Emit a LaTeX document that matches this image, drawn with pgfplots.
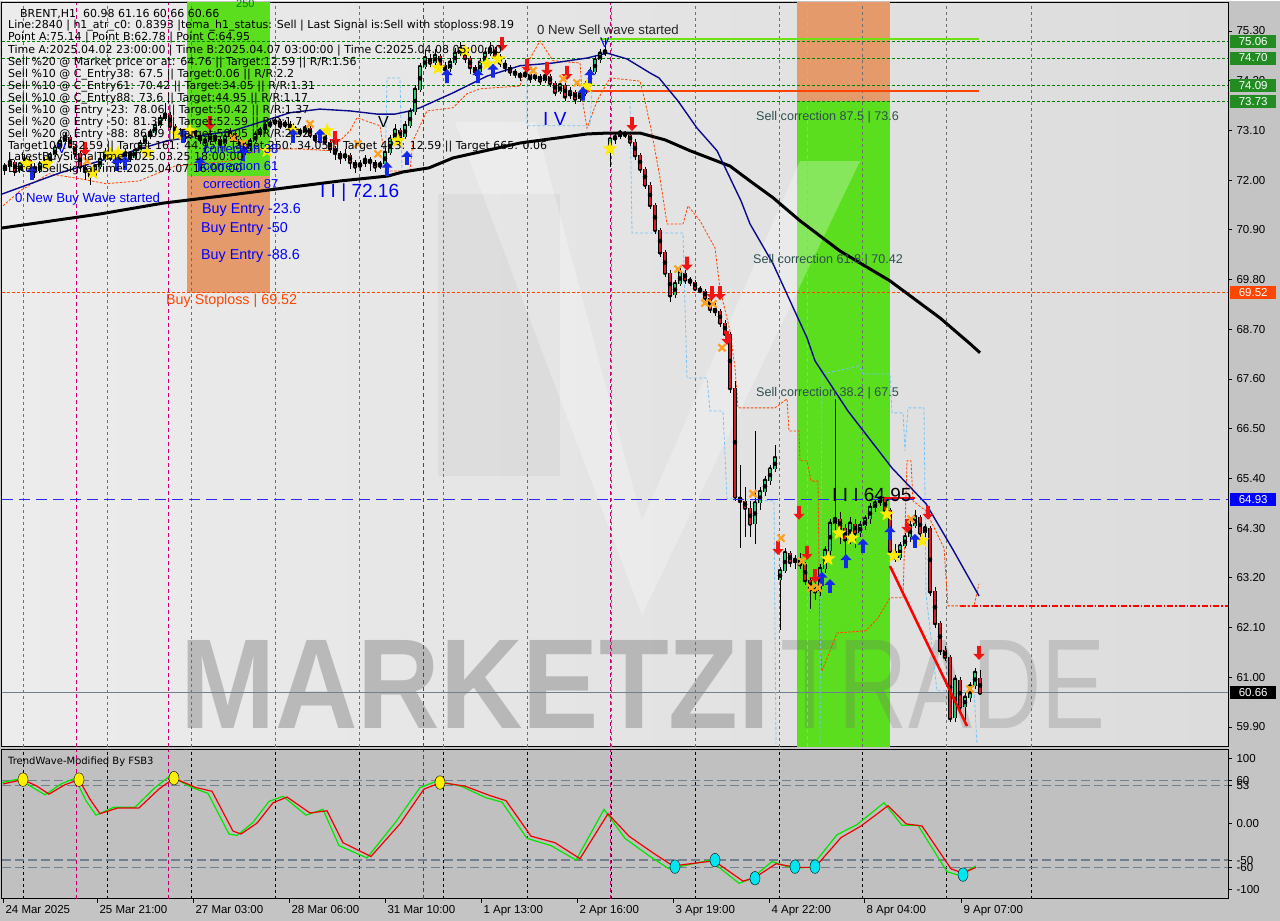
\documentclass[border=0pt]{standalone}
\usepackage{pgfplots}
\pgfplotsset{compat=1.18}
\usepackage{pgfplotstable}
\usepackage{graphicx}
\usepackage{fontspec}
\setmainfont{Liberation Sans}
\newfontfamily\dvs{DejaVu Sans}

\definecolor{outerbg}{RGB}{196,196,196}
\definecolor{mainL}{RGB}{236,236,236}
\definecolor{mainR}{RGB}{220,220,220}
\definecolor{oscbg}{RGB}{192,192,192}
\definecolor{blkgreen}{RGB}{90,222,30}
\definecolor{blkorange}{RGB}{228,154,106}
\definecolor{navyma}{RGB}{10,10,140}
\definecolor{lvlgreen}{RGB}{0,130,0}
\definecolor{limeline}{RGB}{110,225,20}
\definecolor{orred}{RGB}{255,69,0}
\definecolor{ltblue}{RGB}{120,195,245}
\definecolor{candup}{RGB}{40,200,110}
\definecolor{canddn}{RGB}{215,30,40}
\definecolor{staryel}{RGB}{255,235,0}
\definecolor{arrblue}{RGB}{20,40,235}
\definecolor{arrred}{RGB}{240,20,20}
\definecolor{xorange}{RGB}{255,160,30}
\definecolor{magline}{RGB}{200,0,120}
\definecolor{gridc}{RGB}{110,110,110}
\definecolor{slate}{RGB}{47,79,79}
\definecolor{taggreen}{RGB}{34,139,34}
\definecolor{pureblue}{RGB}{0,0,255}
\definecolor{lineblue}{RGB}{40,40,255}
\definecolor{purered}{RGB}{255,0,0}
\definecolor{oscgreen}{RGB}{0,230,0}
\definecolor{oscred}{RGB}{240,0,0}
\definecolor{osccyan}{RGB}{0,230,240}
\definecolor{oscyel}{RGB}{255,240,0}
\definecolor{osclvl}{RGB}{112,128,144}
\definecolor{wmgray}{RGB}{110,110,110}

\pgfdeclareplotmark{fstar}{%
  \pgfpathmoveto{\pgfqpoint{0pt}{\pgfplotmarksize}}%
  \pgfpathlineto{\pgfqpoint{0.235\pgfplotmarksize}{0.324\pgfplotmarksize}}%
  \pgfpathlineto{\pgfqpoint{0.951\pgfplotmarksize}{0.309\pgfplotmarksize}}%
  \pgfpathlineto{\pgfqpoint{0.380\pgfplotmarksize}{-0.124\pgfplotmarksize}}%
  \pgfpathlineto{\pgfqpoint{0.588\pgfplotmarksize}{-0.809\pgfplotmarksize}}%
  \pgfpathlineto{\pgfqpoint{0pt}{-0.4\pgfplotmarksize}}%
  \pgfpathlineto{\pgfqpoint{-0.588\pgfplotmarksize}{-0.809\pgfplotmarksize}}%
  \pgfpathlineto{\pgfqpoint{-0.380\pgfplotmarksize}{-0.124\pgfplotmarksize}}%
  \pgfpathlineto{\pgfqpoint{-0.951\pgfplotmarksize}{0.309\pgfplotmarksize}}%
  \pgfpathlineto{\pgfqpoint{-0.235\pgfplotmarksize}{0.324\pgfplotmarksize}}%
  \pgfpathclose\pgfusepathqfill}
\pgfdeclareplotmark{uparr}{%
  \pgfpathmoveto{\pgfqpoint{0pt}{\pgfplotmarksize}}%
  \pgfpathlineto{\pgfqpoint{0.8\pgfplotmarksize}{0.15\pgfplotmarksize}}%
  \pgfpathlineto{\pgfqpoint{0.28\pgfplotmarksize}{0.15\pgfplotmarksize}}%
  \pgfpathlineto{\pgfqpoint{0.28\pgfplotmarksize}{-\pgfplotmarksize}}%
  \pgfpathlineto{\pgfqpoint{-0.28\pgfplotmarksize}{-\pgfplotmarksize}}%
  \pgfpathlineto{\pgfqpoint{-0.28\pgfplotmarksize}{0.15\pgfplotmarksize}}%
  \pgfpathlineto{\pgfqpoint{-0.8\pgfplotmarksize}{0.15\pgfplotmarksize}}%
  \pgfpathclose\pgfusepathqfill}
\pgfdeclareplotmark{dnarr}{%
  \pgfpathmoveto{\pgfqpoint{0pt}{-\pgfplotmarksize}}%
  \pgfpathlineto{\pgfqpoint{0.8\pgfplotmarksize}{-0.15\pgfplotmarksize}}%
  \pgfpathlineto{\pgfqpoint{0.28\pgfplotmarksize}{-0.15\pgfplotmarksize}}%
  \pgfpathlineto{\pgfqpoint{0.28\pgfplotmarksize}{\pgfplotmarksize}}%
  \pgfpathlineto{\pgfqpoint{-0.28\pgfplotmarksize}{\pgfplotmarksize}}%
  \pgfpathlineto{\pgfqpoint{-0.28\pgfplotmarksize}{-0.15\pgfplotmarksize}}%
  \pgfpathlineto{\pgfqpoint{-0.8\pgfplotmarksize}{-0.15\pgfplotmarksize}}%
  \pgfpathclose\pgfusepathqfill}

% bullish candles: x open high low close
\pgfplotstableread{
x o h l c
5 72.20 72.38 72.12 72.30
10 72.30 72.48 72.25 72.40
20 72.20 72.40 72.15 72.35
25 72.35 72.55 72.30 72.45
40 72.20 72.42 72.15 72.35
45 72.35 72.50 72.30 72.40
50 72.40 72.62 72.35 72.55
55 72.55 72.78 72.50 72.70
60 72.70 72.95 72.65 72.85
65 72.85 73.05 72.80 72.95
95 72.10 72.35 72.05 72.30
100 72.30 72.52 72.25 72.45
105 72.45 72.70 72.40 72.60
120 72.40 72.58 72.35 72.50
125 72.50 72.68 72.45 72.60
135 72.50 72.72 72.45 72.65
140 72.65 72.88 72.60 72.80
145 72.80 73.02 72.75 72.95
150 72.95 73.12 72.90 73.05
155 73.05 73.28 73.00 73.20
160 73.20 73.45 73.15 73.35
165 73.35 73.70 73.30 73.45
190 72.95 73.20 72.90 73.10
210 72.85 73.10 72.80 73.00
225 72.80 73.02 72.75 72.95
230 72.95 73.15 72.90 73.05
250 72.70 72.92 72.65 72.85
255 72.85 73.08 72.80 73.00
260 73.00 73.18 72.95 73.10
265 73.10 73.28 73.05 73.20
270 73.20 73.32 73.15 73.25
275 73.25 73.40 73.20 73.30
285 73.20 73.32 73.15 73.25
305 73.05 73.22 73.00 73.15
320 72.90 73.10 72.85 73.00
345 72.50 72.68 72.42 72.55
360 72.30 72.45 72.20 72.35
365 72.35 72.55 72.30 72.45
380 72.30 72.42 72.25 72.35
385 72.35 72.70 72.30 72.60
390 72.60 73.00 72.55 72.90
395 72.90 73.25 72.85 73.10
405 72.95 73.30 72.90 73.20
410 73.20 73.60 73.15 73.50
415 73.50 74.10 73.45 74.00
420 74.00 74.60 73.95 74.50
425 74.50 74.85 74.45 74.70
435 74.60 74.90 74.55 74.75
450 74.45 74.70 74.40 74.60
455 74.60 74.92 74.55 74.80
460 74.80 75.05 74.75 74.90
480 74.40 74.70 74.35 74.60
485 74.60 74.92 74.55 74.80
490 74.80 75.05 74.75 74.90
525 74.30 74.45 74.25 74.35
535 74.25 74.38 74.20 74.30
545 74.20 74.40 74.15 74.30
560 73.95 74.18 73.90 74.10
570 73.85 74.05 73.80 73.95
580 73.80 73.98 73.72 73.90
585 73.90 74.20 73.85 74.10
590 74.10 74.50 74.05 74.40
595 74.40 74.75 74.35 74.65
600 74.65 74.90 74.60 74.80
605 74.80 75.14 74.75 74.85
610 72.60 72.95 72.30 72.90
615 72.90 73.05 72.80 72.95
620 72.95 73.10 72.90 73.05
675 69.45 69.80 69.40 69.70
680 69.70 70.05 69.65 69.95
755 64.40 66.45 63.95 64.85
760 64.85 65.20 64.70 65.10
765 65.10 65.45 65.00 65.35
770 65.35 65.70 65.25 65.60
775 65.60 66.15 65.55 65.85
780 63.15 63.45 62.05 63.35
785 63.35 63.85 63.30 63.75
795 63.55 63.70 63.40 63.60
820 62.90 63.50 62.80 63.40
825 63.40 63.90 63.30 63.80
830 63.80 64.50 63.70 64.40
835 64.40 67.15 64.25 64.50
850 64.05 64.55 63.95 64.40
860 64.20 64.45 64.10 64.35
865 64.35 64.60 64.25 64.50
870 64.50 64.85 64.40 64.75
875 64.75 64.95 64.65 64.85
880 64.85 65.00 64.80 64.95
900 63.65 64.00 63.60 63.90
905 63.90 64.20 63.85 64.10
910 64.10 64.45 64.00 64.35
915 64.35 64.70 64.30 64.55
925 64.20 64.40 64.10 64.30
955 60.10 61.05 60.00 60.95
965 60.35 60.65 60.05 60.55
970 60.55 60.90 60.45 60.80
975 60.80 61.20 60.75 61.10
}\upbars

% bearish candles: x open high low close
\pgfplotstableread{
x o h l c
15 72.40 72.45 72.10 72.20
30 72.45 72.50 72.25 72.30
35 72.30 72.38 72.05 72.20
70 72.95 73.00 72.70 72.75
75 72.75 72.80 72.50 72.60
80 72.60 72.65 72.20 72.30
85 72.30 72.40 72.00 72.20
90 72.20 72.25 71.90 72.10
110 72.60 72.65 72.42 72.50
115 72.50 72.55 72.30 72.40
130 72.60 72.65 72.40 72.50
170 73.45 73.50 73.10 73.20
175 73.20 73.25 72.95 73.05
180 73.05 73.15 72.90 73.00
185 73.00 73.10 72.85 72.95
195 73.10 73.15 72.90 73.00
200 73.00 73.05 72.80 72.90
205 72.90 72.95 72.60 72.85
215 73.00 73.05 72.80 72.90
220 72.90 72.95 72.70 72.80
235 73.05 73.10 72.85 72.90
240 72.90 72.95 72.70 72.80
245 72.80 72.85 72.55 72.70
280 73.30 73.35 73.12 73.20
290 73.25 73.30 73.08 73.15
295 73.15 73.20 73.02 73.10
300 73.10 73.15 72.98 73.05
310 73.15 73.20 72.92 73.00
315 73.00 73.05 72.82 72.90
325 73.00 73.05 72.78 72.85
330 72.85 72.90 72.60 72.70
335 72.70 72.75 72.45 72.60
340 72.60 72.65 72.35 72.50
350 72.55 72.60 72.25 72.40
355 72.40 72.45 72.16 72.30
370 72.45 72.50 72.20 72.40
375 72.40 72.45 72.18 72.30
400 73.10 73.15 72.85 72.95
430 74.70 74.80 74.50 74.60
440 74.75 74.80 74.45 74.55
445 74.55 74.62 74.35 74.45
465 74.90 74.95 74.60 74.70
470 74.70 74.75 74.35 74.50
475 74.50 74.55 74.30 74.40
495 74.90 74.95 74.65 74.75
500 74.75 74.80 74.50 74.60
505 74.60 74.65 74.40 74.50
510 74.50 74.55 74.30 74.40
515 74.40 74.45 74.25 74.35
520 74.35 74.40 74.20 74.30
530 74.35 74.40 74.15 74.25
540 74.30 74.35 74.10 74.20
550 74.30 74.35 74.05 74.15
555 74.15 74.20 73.85 73.95
565 74.10 74.15 73.75 73.85
575 73.95 74.00 73.68 73.80
625 73.05 73.08 72.92 73.00
630 73.00 73.02 72.75 72.85
635 72.85 72.90 72.45 72.55
640 72.55 72.60 72.15 72.25
645 72.25 72.30 71.80 71.90
650 71.90 71.95 71.35 71.45
655 71.45 71.50 70.80 70.90
660 70.90 70.95 70.30 70.40
665 70.40 70.45 69.85 69.95
670 69.95 70.00 69.30 69.45
685 69.95 70.00 69.70 69.80
690 69.80 69.85 69.65 69.75
695 69.75 69.78 69.55 69.60
700 69.60 69.65 69.50 69.55
705 69.55 69.58 69.30 69.40
710 69.40 69.45 69.05 69.15
715 69.15 69.28 69.00 69.10
720 69.10 69.15 68.75 68.85
725 68.85 68.90 68.50 68.60
730 68.60 68.65 67.30 67.40
735 67.40 67.55 64.90 65.00
740 65.00 65.70 63.85 64.90
745 64.90 65.20 64.10 64.75
750 64.75 64.90 64.10 64.40
790 63.75 63.80 63.45 63.55
800 63.60 63.75 63.40 63.50
805 63.50 63.55 63.05 63.15
810 63.15 63.20 62.50 62.95
815 62.95 63.10 62.70 62.90
840 64.50 64.65 63.95 64.30
845 64.30 64.40 63.50 64.05
855 64.40 64.50 63.85 64.20
885 64.95 64.98 64.60 64.70
890 64.70 64.75 63.70 63.80
895 63.80 63.95 63.55 63.65
920 64.55 64.60 64.10 64.20
930 64.30 64.35 62.80 62.90
935 62.90 63.00 62.10 62.20
940 62.20 62.25 61.50 61.60
945 61.60 61.70 61.35 61.45
950 61.45 61.50 60.00 60.10
960 60.95 61.00 60.25 60.35
980 60.98 61.16 60.66 60.66
}\dnbars

\pgfplotsset{
  wick/.style={only marks, mark=none, forget plot, error bars/.cd, y dir=both, y explicit,
    error bar style={draw=black, line width=1pt}, error mark=none},
  body/.style 2 args={only marks, mark=none, forget plot, error bars/.cd, y dir=both, y explicit,
    error bar style={draw=#1, line width=#2}, error mark=none},
}

\begin{document}
\begin{tikzpicture}
\fill[outerbg] (0pt,0pt) rectangle (1280pt,-920pt);

% ================= MAIN PRICE PANEL =================
\begin{axis}[
  at={(2pt,-746pt)}, anchor=south west,
  scale only axis, width=1226pt, height=744pt,
  xmin=2, xmax=1228, ymin=59.46, ymax=75.92,
  axis background/.style={left color=mainL, right color=mainR},
  axis line style={black, line width=1pt},
  clip mode=individual,
  xtick=\empty,
  ytick={59.9,61,62.1,63.2,64.3,65.4,66.5,67.6,68.7,69.8,70.9,72,73.1,74.2,75.3},
  ytick pos=right, yticklabel pos=right,
  tick align=outside, major tick length=4pt,
  tick style={black, line width=0.8pt},
  yticklabel={\pgfmathprintnumber[fixed,fixed zerofill,precision=2,assume math mode=true]{\tick}},
  yticklabel style={font=\fontsize{11.5}{13}\selectfont, anchor=west, xshift=1pt},
]
% faint logo block behind
\addplot[fill=black, fill opacity=0.035, draw=none, forget plot] coordinates {(438,71.69) (560,71.69) (560,65.45) (438,65.45)} -- cycle;

% shaded zones
\addplot[fill=blkgreen, draw=none, forget plot] coordinates {(187,72.09) (270,72.09) (270,76.2) (187,76.2)} -- cycle;
\addplot[fill=blkorange, draw=none, forget plot] coordinates {(187,69.50) (270,69.50) (270,72.09) (187,72.09)} -- cycle;
\addplot[fill=blkorange, draw=none, forget plot] coordinates {(797,73.75) (890,73.75) (890,76.2) (797,76.2)} -- cycle;
\addplot[fill=blkgreen, draw=none, forget plot] coordinates {(797,59.0) (890,59.0) (890,73.75) (797,73.75)} -- cycle;

% light logo "V"
\addplot[fill=white, fill opacity=0.28, draw=none, forget plot] coordinates {
(455,73.29) (535,73.29) (642,64.46) (800,72.42) (860,72.42) (642,62.38)} -- cycle;

% watermark
\node[anchor=south west, inner sep=0pt, text=wmgray, text opacity=0.38] at (axis cs:180,59.856) {\resizebox{590pt}{88pt}{\bfseries MARKETZI}};
\node[anchor=south west, inner sep=0pt, text=wmgray, text opacity=0.25] at (axis cs:780,59.856) {\resizebox{325pt}{88pt}{TRADE}};

% vertical grid
\pgfplotsinvokeforeach{23,107,191,275,359,443,527,611,695,779,862,946,1031}{
  \draw[gridc, line width=0.7pt, dash pattern=on 3pt off 3pt] (axis cs:#1,59.46) -- (axis cs:#1,75.92);
}
\pgfplotsinvokeforeach{76,168,423,610}{
  \draw[magline, line width=0.8pt, dash pattern=on 4pt off 3pt] (axis cs:#1,59.46) -- (axis cs:#1,75.92);
}
\draw[ltblue, line width=0.8pt, dash pattern=on 4pt off 3pt] (axis cs:807,59.46) -- (axis cs:807,75.92);

% horizontal levels
\addplot[lvlgreen, line width=0.8pt, dash pattern=on 3pt off 2pt, forget plot] coordinates {(2,75.06) (1228,75.06)};
\addplot[lvlgreen, line width=0.8pt, dash pattern=on 3pt off 2pt, forget plot] coordinates {(2,74.70) (1228,74.70)};
\addplot[lvlgreen, line width=0.8pt, dash pattern=on 3pt off 2pt, forget plot] coordinates {(2,74.09) (1228,74.09)};
\addplot[lvlgreen, line width=0.8pt, dash pattern=on 3pt off 2pt, forget plot] coordinates {(2,73.73) (1228,73.73)};
\addplot[orred, line width=1pt, dash pattern=on 3pt off 2pt, forget plot] coordinates {(2,69.52) (1228,69.52)};
\addplot[purered, line width=1.4pt, dash pattern=on 6pt off 2pt on 1.5pt off 2pt, forget plot] coordinates {(960,62.58) (1228,62.58)};
\addplot[osclvl, line width=1pt, forget plot] coordinates {(2,60.66) (1228,60.66)};
\addplot[limeline, line width=1.2pt, forget plot] coordinates {(600,75.12) (979,75.12)};
\addplot[orred, line width=1.2pt, forget plot] coordinates {(580,73.97) (979,73.97)};

% indicator bands
\addplot[orred, line width=0.8pt, dash pattern=on 2.5pt off 1.5pt, forget plot] coordinates {
(3,71.43) (20,71.76) (49,72.14) (80,72.03) (106,71.92) (139,71.98) (175,72.31) (229,72.42) (262,72.69)
(300,72.69) (330,72.65) (350,73.09) (357,73.38) (380,73.20) (387,72.20) (410,72.20) (413,72.87)
(427,73.53) (453,73.60) (467,73.91) (480,74.02) (520,74.08) (527,74.57) (540,75.08) (553,74.64)
(580,74.59) (583,73.69) (587,73.15) (597,73.75) (610,74.26) (640,74.19) (645,73.75) (652,73.02)
(660,72.05) (667,71.03) (683,71.03) (688,71.43) (700,71.10) (715,70.50) (720,69.59) (730,68.66)
(735,67.84) (738,66.96) (775,66.96) (787,67.16) (789,66.45) (799,66.45) (800,65.79) (807,65.79)
(811,65.34) (818,65.34) (820,61.74) (822,61.14) (837,61.98) (866,62.03) (878,62.31) (890,62.76)
(903,62.76) (907,65.79) (911,65.79) (913,64.90) (926,64.68) (944,63.86) (948,62.58) (974,62.58) (979,63.07)};
\addplot[ltblue, line width=0.8pt, dash pattern=on 3pt off 2pt, forget plot] coordinates {
(630,73.75) (632,70.83) (683,70.83) (687,67.62) (707,67.62) (710,66.89) (723,66.89) (727,64.95)
(774,64.90) (776,59.53)};
\addplot[ltblue, line width=0.8pt, dash pattern=on 3pt off 2pt, forget plot] coordinates {
(820,59.53) (822,67.71) (859,67.89) (863,67.71) (890,67.71) (892,66.85) (903,66.85) (905,66.01)
(908,66.96) (924,66.96) (926,62.84) (937,60.70) (974,60.70) (977,59.53)};
\addplot[ltblue, line width=0.8pt, dash pattern=on 3pt off 2pt, forget plot] coordinates {
(385,72.05) (387,74.26) (400,74.26) (402,72.20)};
\addplot[ltblue, line width=0.8pt, dash pattern=on 3pt off 2pt, forget plot] coordinates {
(527,74.30) (527,73.20) (590,73.20) (592,74.00)};

% moving averages
\addplot[black, line width=3pt, forget plot] coordinates {
(2,70.94) (100,71.25) (163,71.49) (230,71.67) (286,71.83) (340,71.98) (388,72.09) (403,72.18)
(429,72.27) (453,72.49) (520,72.82) (587,73.02) (607,73.04) (640,73.04) (665,72.89) (690,72.65)
(730,72.31) (750,71.98) (773,71.61) (800,71.10) (840,70.43) (890,69.77) (940,68.95) (970,68.38) (980,68.18)};
\addplot[navyma, line width=1.4pt, forget plot] coordinates {
(2,71.69) (60,72.16) (110,72.49) (167,72.87) (233,73.09) (290,73.49) (320,73.57) (350,73.53)
(377,73.46) (395,73.46) (410,73.53) (420,73.60) (453,73.93) (487,74.30) (520,74.53) (553,74.59)
(587,74.70) (607,74.81) (627,74.68) (650,74.37) (659,74.26) (678,73.75) (697,73.15) (717,72.65)
(741,71.54) (750,71.03) (773,70.15) (790,69.33) (807,68.51) (815,68.00) (848,66.89) (892,65.63)
(926,64.84) (952,63.86) (979,62.80)};

% candles: wicks
\addplot[wick] table[x=x, y=c, y error plus expr=\thisrow{h}-\thisrow{c}, y error minus expr=\thisrow{c}-\thisrow{l}] {\upbars};
\addplot[wick] table[x=x, y=c, y error plus expr=\thisrow{h}-\thisrow{c}, y error minus expr=\thisrow{c}-\thisrow{l}] {\dnbars};
% candles: bodies
\addplot[body={black}{3.6pt}] table[x=x, y expr=(\thisrow{o}+\thisrow{c})/2, y error expr=(\thisrow{c}-\thisrow{o})/2] {\upbars};
\addplot[body={candup}{2.2pt}] table[x=x, y expr=(\thisrow{o}+\thisrow{c})/2, y error expr=(\thisrow{c}-\thisrow{o})/2] {\upbars};
\addplot[body={black}{3.6pt}] table[x=x, y expr=(\thisrow{o}+\thisrow{c})/2, y error expr=(\thisrow{o}-\thisrow{c})/2] {\dnbars};
\addplot[body={canddn}{2.2pt}] table[x=x, y expr=(\thisrow{o}+\thisrow{c})/2, y error expr=(\thisrow{o}-\thisrow{c})/2] {\dnbars};

% blue Point C level (drawn after candles)
\draw[draw=lineblue, line width=1.5pt, dash pattern=on 11pt off 6pt] (axis cs:2,64.93) -- (axis cs:1228,64.93);

% sell wave lines
\addplot[purered, line width=2.5pt, forget plot] coordinates {(890,63.46) (967,59.92)};
\addplot[purered, line width=2.5pt, forget plot] coordinates {(883,64.97) (915,64.97)};

% signal markers
\addplot[only marks, mark=fstar, mark size=8pt, mark options={fill=staryel, draw=none}, forget plot] coordinates {
(27,72.36) (47,72.36) (93,72.16) (110,72.58) (118,72.60) (147,72.60) (177,73.02) (190,73.09)
(267,72.65) (293,73.09) (327,73.09) (398,72.87) (438,74.48) (465,74.86) (487,74.57) (498,74.68)
(587,74.08) (610,72.69) (828,63.62) (839,64.19) (852,64.08) (887,64.61) (894,63.69) (922,64.02)};
\addplot[only marks, mark=uparr, mark size=7pt, mark options={fill=arrblue, draw=none}, forget plot] coordinates {
(32,72.16) (117,72.36) (125,72.38) (183,72.98) (200,72.36) (243,72.58) (293,72.98) (320,72.98)
(387,72.25) (407,72.49) (447,74.30) (478,74.30) (493,74.42) (583,73.91) (590,74.30)
(822,63.18) (830,63.02) (846,63.57) (863,63.91) (890,64.19) (915,64.02)};
\addplot[only marks, mark=dnarr, mark size=7pt, mark options={fill=arrred, draw=none}, forget plot] coordinates {
(85,72.69) (210,73.26) (335,72.93) (502,75.01) (527,74.53) (547,74.46) (567,74.37) (632,73.24)
(687,70.15) (712,69.50) (720,69.50) (727,68.51) (778,63.86) (799,64.64) (807,63.75) (815,63.24)
(907,64.35) (928,64.64) (979,61.54)};
\addplot[only marks, mark=x, mark size=5pt, mark options={draw=xorange, line width=2.2pt}, forget plot] coordinates {
(87,72.42) (233,72.93) (243,72.82) (310,73.24) (358,72.80) (378,72.58) (533,74.42) (563,74.24)
(577,74.15) (678,70.03) (705,69.28) (713,69.26) (722,68.29) (753,65.06) (781,64.08) (802,63.57)
(811,62.98) (818,62.98) (911,64.50) (970,60.74)};

% price tags
\begin{scope}[every node/.style={anchor=west, inner sep=1.5pt, text=white, font=\fontsize{11.5}{12}\selectfont, minimum width=46pt, minimum height=13pt, xshift=2pt}]
\node[fill=taggreen] at (axis cs:1228,75.06) {75.06};
\node[fill=taggreen] at (axis cs:1228,74.70) {74.70};
\node[fill=taggreen] at (axis cs:1228,74.09) {74.09};
\node[fill=taggreen] at (axis cs:1228,73.73) {73.73};
\node[fill=orred] at (axis cs:1228,69.52) {69.52};
\node[fill=pureblue] at (axis cs:1228,64.93) {64.93};
\node[fill=black] at (axis cs:1228,60.66) {60.66};
\end{scope}
\end{axis}

% ================= OSCILLATOR PANEL =================
\begin{axis}[
  at={(2pt,-898pt)}, anchor=south west,
  scale only axis, width=1226pt, height=149pt,
  xmin=2, xmax=1228, ymin=-103.5, ymax=102,
  axis background/.style={fill=oscbg},
  axis line style={black, line width=1pt},
  clip mode=individual,
  ytick={90,60,53,0,-50,-60,-90},
  yticklabels={100,60,53,0.00,-50,-60,-100},
  ytick pos=right, yticklabel pos=right,
  xtick={3,97,193,289,385,481,577,673,769,864,961},
  xticklabels={24 Mar 2025,25 Mar 21:00,27 Mar 03:00,28 Mar 06:00,31 Mar 10:00,1 Apr 13:00,2 Apr 16:00,3 Apr 19:00,4 Apr 22:00,8 Apr 04:00,9 Apr 07:00},
  xtick pos=bottom,
  tick align=outside, major tick length=4pt,
  tick style={black, line width=0.8pt},
  yticklabel style={font=\fontsize{11.5}{13}\selectfont, anchor=west, xshift=1pt},
  xticklabel style={font=\fontsize{11.5}{13}\selectfont, anchor=north west, xshift=-1pt, yshift=1pt},
]
\pgfplotsinvokeforeach{23,107,191,275,359,443,527,611,695,779,862,946,1031}{
  \draw[black, line width=0.7pt, dash pattern=on 3pt off 3pt] (axis cs:#1,-103.5) -- (axis cs:#1,102);
}
\pgfplotsinvokeforeach{76,168,423,610}{
  \draw[magline, line width=0.8pt, dash pattern=on 4pt off 3pt] (axis cs:#1,-103.5) -- (axis cs:#1,102);
}
\addplot[osclvl, line width=1.4pt, dash pattern=on 9pt off 4pt, forget plot] coordinates {(2,60) (1228,60)};
\addplot[osclvl, line width=1.4pt, dash pattern=on 9pt off 4pt, forget plot] coordinates {(2,53) (1228,53)};
\addplot[osclvl, line width=1.4pt, dash pattern=on 9pt off 4pt, forget plot] coordinates {(2,-50) (1228,-50)};
\addplot[osclvl, line width=1.4pt, dash pattern=on 9pt off 4pt, forget plot] coordinates {(2,-60) (1228,-60)};

\addplot[oscgreen, line width=1.2pt, forget plot] coordinates {
(2,57) (19,62) (33,50) (45,40) (61,55) (75,63) (86,32) (96,12) (114,23) (135,23) (155,50) (170,66)
(192,50) (208,42) (229,-14) (237,-16) (253,2) (269,31) (283,38) (306,12) (323,20) (339,-30) (367,-47)
(396,3) (420,50) (437,59) (461,52) (486,36) (502,30) (527,-20) (551,-30) (576,-50) (604,20) (625,-20)
(649,-44) (669,-62) (710,-50) (739,-82) (751,-76) (772,-52) (792,-61) (811,-60) (837,-15) (857,-1)
(884,29) (902,-2) (918,-2) (947,-66) (959,-71) (976,-58)};
\addplot[oscred, line width=1.2pt, forget plot] coordinates {
(3,55) (23,61) (37,52) (49,41) (65,54) (79,61) (90,34) (100,14) (118,22) (139,22) (159,48) (174,63)
(196,50) (212,45) (233,-10) (241,-14) (257,1) (273,29) (287,37) (310,15) (327,18) (343,-26) (371,-45)
(400,0) (424,48) (441,57) (465,52) (490,39) (506,32) (531,-17) (555,-26) (580,-48) (608,14) (629,-17)
(653,-40) (673,-58) (714,-51) (743,-79) (755,-74) (776,-55) (796,-60) (815,-60) (841,-19) (861,-3)
(888,25) (906,0) (922,-3) (951,-62) (963,-68) (976,-60)};
\addplot[only marks, mark=*, mark size=5pt, mark options={fill=oscyel, draw=none, yscale=1.35}, forget plot] coordinates {
(23,61) (79,61) (174,63) (440,57)};
\addplot[only marks, mark=*, mark size=5pt, mark options={fill=osccyan, draw=none, yscale=1.35}, forget plot] coordinates {
(675,-59) (715,-50) (755,-75) (795,-59) (815,-59) (963,-70)};
\end{axis}

% ================= TEXT ANNOTATIONS =================
\begin{scope}[every node/.style={anchor=west, inner sep=0pt, font=\dvs\fontsize{11}{12}\selectfont}]
\node at (20pt,-12.7pt) {BRENT,H1\ \ 60.98 61.16 60.66 60.66};
\node at (8pt,-25pt) {Line:2840 | h1\_atr\_c0: 0.8393 |tema\_h1\_status: Sell | Last Signal is:Sell with stoploss:98.19};
\node at (8pt,-37pt) {Point A:75.14 | Point B:62.78 | Point C:64.95};
\node at (8pt,-50pt) {Time A:2025.04.02 23:00:00 | Time B:2025.04.07 03:00:00 | Time C:2025.04.08 05:00:00};
\node at (8pt,-62pt) {Sell \%20 @ Market price or at: 64.76 || Target:12.59 || R/R:1.56};
\node at (8pt,-73.5pt) {Sell \%10 @ C\_Entry38: 67.5 || Target:0.06 || R/R:2.2};
\node at (8pt,-86pt) {Sell \%10 @ C\_Entry61: 70.42 || Target:34.05 || R/R:1.31};
\node at (8pt,-98pt) {Sell \%10 @ C\_Entry88: 73.6 || Target:44.95 || R/R:1.17};
\node at (8pt,-110pt) {Sell \%10 @ Entry -23: 78.06 || Target:50.42 || R/R:1.37};
\node at (8pt,-122pt) {Sell \%20 @ Entry -50: 81.32 || Target:52.59 || R/R:1.7};
\node at (8pt,-134pt) {Sell \%20 @ Entry -88: 86.09 || Target:58.05 || R/R:2.32};
\node at (8pt,-146pt) {Target100: 52.59 || Target 161: 44.95 || Target 250: 34.05 || Target 423: 12.59 || Target 665: 0.06};
\node at (8pt,-157pt) {LatestBuySignalTime:2025.03.25 18:00:00};
\node at (8pt,-169pt) {LatestSellSignalTime:2025.04.07 16:00:00};
\node[font=\dvs\fontsize{10}{12}\selectfont] at (8pt,-761pt) {TrendWave-Modified By FSB3};
\end{scope}

\begin{scope}[every node/.style={anchor=west, inner sep=0pt}]
\node[text=blue, font=\fontsize{13.2}{14}\selectfont] at (15pt,-198pt) {0 New Buy Wave started};
\node[text=blue, font=\fontsize{13}{14}\selectfont] at (203pt,-148pt) {correction 38};
\node[text=blue, font=\fontsize{13}{14}\selectfont] at (203pt,-165pt) {correction 61};
\node[text=blue, font=\fontsize{13}{14}\selectfont] at (203pt,-183pt) {correction 87};
\node[text=lvlgreen, font=\fontsize{11}{12}\selectfont] at (236pt,-3pt) {250};
\node[text=blue, font=\fontsize{14.3}{16}\selectfont] at (202pt,-209pt) {Buy Entry -23.6};
\node[text=blue, font=\fontsize{14.3}{16}\selectfont] at (201pt,-228pt) {Buy Entry -50};
\node[text=blue, font=\fontsize{14.3}{16}\selectfont] at (201pt,-255pt) {Buy Entry -88.6};
\node[text=orred, font=\fontsize{14.3}{16}\selectfont] at (166pt,-300pt) {Buy Stoploss | 69.52};
\node[text=blue, font=\fontsize{19}{21}\selectfont] at (320pt,-192pt) {I I | 72.16};
\node[text=blue, font=\fontsize{19}{21}\selectfont] at (543pt,-118pt) {I V};
\node[text=black, font=\fontsize{16}{18}\selectfont] at (378pt,-121pt) {V};
\node[text=blue, font=\fontsize{14}{16}\selectfont] at (600pt,-42pt) {V};
\node[text=blue, font=\fontsize{14}{16}\selectfont] at (57pt,-148pt) {V};
\node[text=black!85, font=\fontsize{13.2}{15}\selectfont] at (537pt,-29pt) {0 New Sell wave started};
\node[text=slate, font=\fontsize{12.6}{14}\selectfont] at (756pt,-116pt) {Sell correction 87.5 | 73.6};
\node[text=slate, font=\fontsize{12.6}{14}\selectfont] at (753pt,-259pt) {Sell correction 61.8 | 70.42};
\node[text=slate, font=\fontsize{12.6}{14}\selectfont] at (756pt,-392pt) {Sell correction 38.2 | 67.5};
\node[text=black, font=\fontsize{19}{21}\selectfont] at (832pt,-494pt) {I I I 64.95};
\end{scope}
\end{tikzpicture}
\end{document}
